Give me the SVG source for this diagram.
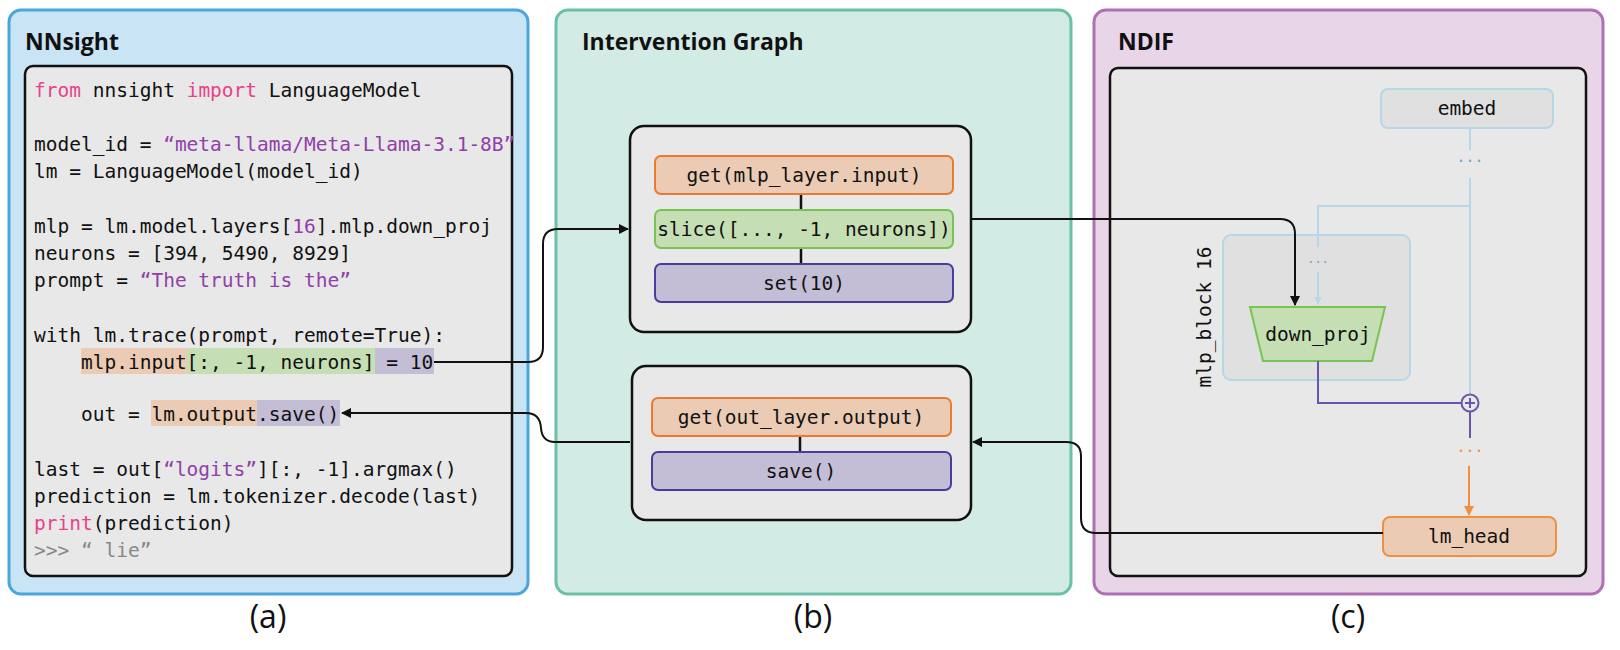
<svg xmlns="http://www.w3.org/2000/svg" width="1620" height="650" viewBox="0 0 1620 650">
<style>
.mono{font-family:"DejaVu Sans Mono","Liberation Mono",monospace;font-size:19.5px;fill:#111}
.title{font-family:"Open Sans","Noto Sans",sans-serif;font-weight:bold;font-size:23px;fill:#111}
.lab{font-family:"Open Sans","Noto Sans",sans-serif;font-size:32px;fill:#111;text-anchor:middle}
.kw{fill:#e8428c}.str{fill:#9040a8}.cm{fill:#888}
.ctr{text-anchor:middle}
.or{fill:#ebcbb3;stroke:#e87b2f;stroke-width:2}
.gr{fill:#c5deb3;stroke:#78c452;stroke-width:2}
.pu{fill:#c3bdd6;stroke:#4b3b9c;stroke-width:2}
.box{fill:#e8e8e8;stroke:#111;stroke-width:2.5}
.conn{fill:none;stroke:#111;stroke-width:2}
</style>
<defs>
<marker id="ah" viewBox="0 0 10 10" refX="9" refY="5" markerWidth="5" markerHeight="5" orient="auto"><path d="M0 0L10 5L0 10z" fill="#111"/></marker>
<marker id="ahb" viewBox="0 0 10 10" refX="9" refY="5" markerWidth="4" markerHeight="4" orient="auto"><path d="M0 0L10 5L0 10z" fill="#b6d7e8"/></marker>
<marker id="aho" viewBox="0 0 10 10" refX="9" refY="5" markerWidth="5" markerHeight="5" orient="auto"><path d="M0 0L10 5L0 10z" fill="#ef8f3f"/></marker>
</defs>
<g id="panel-a">
<rect x="9" y="10" width="519" height="584" rx="12" fill="#c9e4f5" stroke="#4aa6dc" stroke-width="3"/>
<text class="title" x="25" y="50">NNsight</text>
<rect class="box" x="25" y="66" width="487" height="510" rx="8" stroke-width="2"/>
<rect x="81" y="348" width="106" height="26" fill="#ebcbb3"/>
<rect x="187" y="348" width="188" height="26" fill="#c5deb3"/>
<rect x="375" y="348" width="59" height="26" fill="#c3bdd6"/>
<rect x="151" y="400" width="106" height="26" fill="#ebcbb3"/>
<rect x="257" y="400" width="83" height="26" fill="#c3bdd6"/>
<text class="mono" xml:space="preserve"><tspan x="34" y="97"><tspan class="kw">from</tspan> nnsight <tspan class="kw">import</tspan> LanguageModel</tspan><tspan x="34" y="151">model_id = <tspan class="str">“meta-llama/Meta-Llama-3.1-8B”</tspan></tspan><tspan x="34" y="178">lm = LanguageModel(model_id)</tspan><tspan x="34" y="233">mlp = lm.model.layers[<tspan class="str">16</tspan>].mlp.down_proj</tspan><tspan x="34" y="260">neurons = [394, 5490, 8929]</tspan><tspan x="34" y="287">prompt = <tspan class="str">“The truth is the”</tspan></tspan><tspan x="34" y="342">with lm.trace(prompt, remote=True):</tspan><tspan x="34" y="369">    mlp.input[:, -1, neurons] = 10</tspan><tspan x="34" y="421">    out = lm.output.save()</tspan><tspan x="34" y="476">last = out[<tspan class="str">“logits”</tspan>][:, -1].argmax()</tspan><tspan x="34" y="503">prediction = lm.tokenizer.decode(last)</tspan><tspan x="34" y="530"><tspan class="kw">print</tspan>(prediction)</tspan><tspan x="34" y="557" class="cm">&gt;&gt;&gt; “ lie”</tspan></text>
</g>
<g id="panel-b">
<rect x="556" y="10" width="515" height="584" rx="12" fill="#d3ebe5" stroke="#6cc0a8" stroke-width="3"/>
<text class="title" x="582" y="50">Intervention Graph</text>
</g>
<g id="panel-c">
<rect x="1094" y="10" width="509" height="584" rx="12" fill="#e8d5e8" stroke="#b070b5" stroke-width="3"/>
<text class="title" x="1118" y="50">NDIF</text>
<rect class="box" x="1110" y="68" width="476" height="508" rx="8" stroke-width="2"/>
</g>
<g id="node-b1">
<rect class="box" x="630" y="126" width="341" height="206" rx="14"/>
<line x1="801" y1="194" x2="801" y2="264" stroke="#111" stroke-width="2.5"/>
<rect class="or" x="655" y="156" width="298" height="38" rx="6"/>
<text class="mono ctr" x="804" y="182">get(mlp_layer.input)</text>
<rect class="gr" x="655" y="210" width="298" height="38" rx="6"/>
<text class="mono ctr" x="804" y="236">slice([..., -1, neurons])</text>
<rect class="pu" x="655" y="264" width="298" height="38" rx="6"/>
<text class="mono ctr" x="804" y="290">set(10)</text>
</g>
<g id="node-b2">
<rect class="box" x="632" y="366" width="339" height="154" rx="14"/>
<line x1="800" y1="436" x2="800" y2="452" stroke="#111" stroke-width="2.5"/>
<rect class="or" x="652" y="398" width="299" height="38" rx="6"/>
<text class="mono ctr" x="801" y="424">get(out_layer.output)</text>
<rect class="pu" x="652" y="452" width="299" height="38" rx="6"/>
<text class="mono ctr" x="801" y="478">save()</text>
</g>
<g id="ndif-nodes">
<rect x="1223" y="235" width="187" height="145" rx="8" fill="#e0e0e0" stroke="#b6d7e8" stroke-width="2"/>
<text class="mono" transform="translate(1211 317) rotate(-90)" text-anchor="middle">mlp_block 16</text>
<rect x="1381" y="89" width="172" height="39" rx="7" fill="#e0e0e0" stroke="#b6d7e8" stroke-width="2"/>
<text class="mono ctr" x="1467" y="115">embed</text>
<g fill="none" stroke="#b6d7e8" stroke-width="2">
<path d="M1470 128V150M1470 178V394M1470 206H1318V247"/>
<path d="M1318 272V304" marker-end="url(#ahb)"/>
</g>
<text class="mono ctr" x="1470" y="166" style="font-size:15px;fill:#6aa6d0">···</text>
<text class="mono ctr" x="1318" y="266" style="font-size:12px;fill:#6aa6d0">···</text>
<polygon points="1250,307 1385,307 1372,361 1263,361" fill="#c5deb3" stroke="#78c452" stroke-width="2"/>
<text class="mono ctr" x="1318" y="341">down_proj</text>
<g fill="none" stroke="#6a55aa" stroke-width="2">
<path d="M1318 361V403H1461M1470 412V438"/>
<circle cx="1470" cy="403" r="8.5"/>
<path d="M1465 403H1475M1470 398V408"/>
</g>
<text class="mono ctr" x="1470" y="456" style="font-size:15px;fill:#ef8f3f">···</text>
<path d="M1469 466V515" fill="none" stroke="#ef8f3f" stroke-width="2" marker-end="url(#aho)"/>
<rect x="1383" y="517" width="173" height="39" rx="7" fill="#ebcbb3" stroke="#ef8f3f" stroke-width="2"/>
<text class="mono ctr" x="1469" y="543">lm_head</text>
</g>
<g id="connectors">
<path class="conn" d="M434 362H528Q543 362 543 347V244Q543 229 558 229H628" marker-end="url(#ah)"/>
<path class="conn" d="M630 442H555Q542 442 541 428Q540 413 526 413H342" marker-end="url(#ah)"/>
<path class="conn" d="M972 219H1280Q1295 219 1295 234V305" marker-end="url(#ah)"/>
<path class="conn" d="M1383 533H1096Q1081 533 1081 518V456Q1081 442 1066 442H973" marker-end="url(#ah)"/>
</g>
<text class="lab" x="268" y="628">(a)</text>
<text class="lab" x="813" y="628">(b)</text>
<text class="lab" x="1348" y="628">(c)</text>
</svg>
